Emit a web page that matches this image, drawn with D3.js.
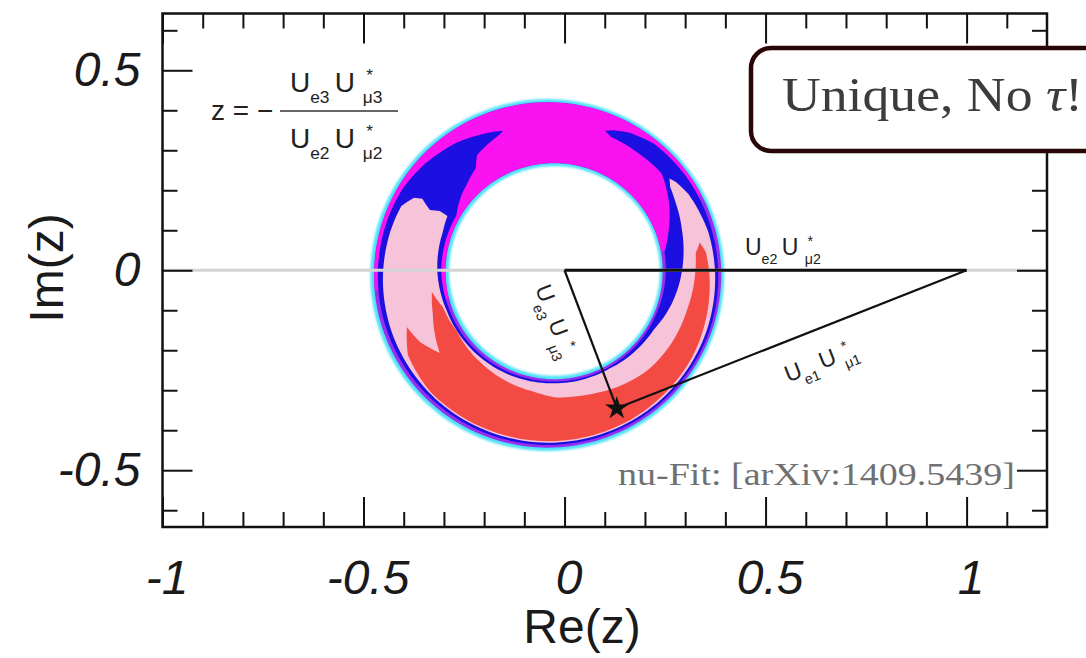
<!DOCTYPE html>
<html>
<head>
<meta charset="utf-8">
<script src="https://cdn.jsdelivr.net/npm/d3@7"></script>
<style>
  body { margin: 0; background: #fff; }
  svg { display: block; }
</style>
</head>
<body>
<svg></svg>
<script>
let width = 1086, height = 658;

// axis ticks
const xMajor = [-1, -0.5, 0, 0.5, 1];
const xMinor = [-0.9, -0.8, -0.7, -0.6, -0.4, -0.3, -0.2, -0.1, 0.1, 0.2, 0.3, 0.4, 0.6, 0.7, 0.8, 0.9, 1.1];
const yMajor = [-0.5, 0, 0.5];
const yMinor = [-0.6, -0.4, -0.3, -0.2, -0.1, 0.1, 0.2, 0.3, 0.4, 0.6];

// ring: inner edge (hole) and outer edge of the widest contour, in Re/Im units
const holeCenter = [-0.025, -0.002], holeRadius = 0.262;
const rimCenter = [-0.043, -0.012], rimRadius = 0.44;

// full bands, [t inner, t outer] across the ring (0 = hole edge, 1 = rim)
const cyanBand = [0, 1];
const purpleBand = [0.045, 0.955];

// regions as outlines of [angle in degrees, t]
const magentaRegion = [[10, 0.05], [28, 0.95], [185, 0.95], [195, 0.05]];
const blueRegion = [
  [108, 0.64], [115, 0.7], [125, 0.78], [138, 0.85], [149, 0.89], [160, 0.9], [200, 0.91],
  [270, 0.92], [340, 0.92], [375, 0.9], [395, 0.9], [411, 0.89], [420, 0.82], [426, 0.74], [429, 0.68],
  [426, 0.63], [414, 0.62], [402, 0.63], [390, 0.43], [378, 0.22], [370, 0.1], [340, 0.08],
  [270, 0.075], [200, 0.085], [180, 0.1], [150, 0.1], [140, 0.2], [134, 0.25], [126, 0.34],
  [122, 0.48], [114, 0.56], [110, 0.6]
];
const pinkRegion = [
  [150.5, 0.7], [155, 0.8], [165, 0.82], [180, 0.84], [200, 0.86], [230, 0.88], [270, 0.89],
  [310, 0.89], [340, 0.88], [360, 0.86], [375, 0.84], [390, 0.78], [396, 0.72], [398.6, 0.67],
  [396, 0.6], [390, 0.54], [378, 0.45], [360, 0.34], [345, 0.25], [330, 0.15], [300, 0.1],
  [270, 0.1], [200, 0.12], [180, 0.15], [160, 0.17], [152, 0.2], [151.2, 0.32], [152.5, 0.44], [149.6, 0.6]
];
const redRegion = [
  [200.6, 0.66], [210, 0.8], [225, 0.86], [270, 0.87], [300, 0.87], [330, 0.85], [350, 0.8],
  [360, 0.77], [368, 0.74], [371.8, 0.67], [368, 0.58], [360, 0.55], [345, 0.5], [330, 0.48],
  [315, 0.45], [300, 0.38], [290, 0.33], [280, 0.3], [272, 0.29], [261, 0.23], [236, 0.17],
  [212, 0.12], [198, 0.15], [189.5, 0.24], [199.6, 0.3], [215.8, 0.45], [207.8, 0.59]
];

// unitarity triangle: 0, 1 and the best fit point
const triangle = [[0, 0], [1, 0]];
const bestFit = [0.13, -0.345];

let svg = d3.select("svg")
    .attr("width", width).attr("height", height)
    .attr("viewBox", "0 0 " + width + " " + height);

svg.append("defs").append("filter").attr("id", "soft")
    .attr("x", "-10%").attr("y", "-10%").attr("width", "120%").attr("height", "120%")
  .append("feGaussianBlur").attr("stdDeviation", 1.3);

let x = d3.scaleLinear().domain([-1, 1.2]).range([162.5, 1047]);
let y = d3.scaleLinear().domain([-0.642, 0.642]).range([527, 13.5]);

// point across the ring at angle a, fraction t between hole edge and rim
function ringPoint([a, t]) {
  let rad = a * Math.PI / 180;
  let xi = holeCenter[0] + holeRadius * Math.cos(rad), yi = holeCenter[1] + holeRadius * Math.sin(rad);
  let xo = rimCenter[0] + rimRadius * Math.cos(rad), yo = rimCenter[1] + rimRadius * Math.sin(rad);
  return [xi + (xo - xi) * t, yi + (yo - yi) * t];
}

function outline(pts) {
  let out = [];
  pts.forEach((p, i) => {
    let q = pts[(i + 1) % pts.length];
    let n = Math.max(1, Math.ceil(Math.abs(q[0] - p[0]) / 2));
    for (let k = 0; k < n; k++) {
      out.push(ringPoint([p[0] + (q[0] - p[0]) * k / n, p[1] + (q[1] - p[1]) * k / n]));
    }
  });
  return out;
}

let ringLine = d3.line().x(d => x(d[0])).y(d => y(d[1])).curve(d3.curveLinearClosed);

function bandPath([t0, t1]) {
  let angles = d3.range(0, 360, 2);
  return ringLine(angles.map(a => ringPoint([a, t1]))) + ringLine(angles.map(a => ringPoint([a, t0])));
}

let ring = svg.append("g").attr("id", "ring");
ring.append("path").attr("d", bandPath(cyanBand)).attr("fill", "#4fe2f4")
    .attr("fill-rule", "evenodd").attr("filter", "url(#soft)");
ring.append("path").attr("d", bandPath(purpleBand)).attr("fill", "#982ef0").attr("fill-rule", "evenodd");

[[magentaRegion, "#fb12f0"], [blueRegion, "#1c0fe2"], [pinkRegion, "#f6c3d8"], [redRegion, "#f34b44"]]
  .forEach(([reg, col]) => {
    ring.append("path").attr("d", ringLine(outline(reg))).attr("fill", col);
  });

// zero line
svg.append("line")
    .attr("x1", x(-1)).attr("x2", x(1.2)).attr("y1", y(0)).attr("y2", y(0))
    .attr("stroke", "#d4d4d4").attr("stroke-width", 3);

// triangle sides
svg.append("line")
    .attr("x1", x(triangle[0][0])).attr("y1", y(triangle[0][1]))
    .attr("x2", x(triangle[1][0])).attr("y2", y(triangle[1][1]))
    .attr("stroke", "#111").attr("stroke-width", 3);
triangle.forEach(p => {
  svg.append("line")
      .attr("x1", x(p[0])).attr("y1", y(p[1]))
      .attr("x2", x(bestFit[0])).attr("y2", y(bestFit[1]))
      .attr("stroke", "#111").attr("stroke-width", 2.2);
});
svg.append("path")
    .attr("d", d3.symbol().type(d3.symbolStar).size(170)())
    .attr("transform", "translate(" + x(bestFit[0]) + "," + y(bestFit[1]) + ")")
    .attr("fill", "#111");

// U_a U*_b labels, drawn from the baseline start
function uPair(g, a, b, s) {
  let t = g.append("g").attr("font-family", "'Liberation Sans', Arial, sans-serif").attr("fill", "#222");
  t.append("text").attr("x", 0).attr("y", 0).attr("font-size", s).text("U");
  t.append("text").attr("x", 0.72 * s).attr("y", 0.38 * s).attr("font-size", 0.62 * s).text(a);
  t.append("text").attr("x", 1.6 * s).attr("y", 0).attr("font-size", s).text("U");
  t.append("text").attr("x", 2.6 * s).attr("y", 0.38 * s).attr("font-size", 0.62 * s).text(b);
  t.append("text").attr("x", 2.72 * s).attr("y", -0.38 * s).attr("font-size", 0.62 * s).text("*");
  return t;
}

function sideLabel(p, q, f, off, a, b) {
  let px = x(p[0]) + (x(q[0]) - x(p[0])) * f, py = y(p[1]) + (y(q[1]) - y(p[1])) * f;
  let ang = Math.atan2(y(q[1]) - y(p[1]), x(q[0]) - x(p[0]));
  let cx = px - Math.sin(ang) * off, cy = py + Math.cos(ang) * off;
  let s = 23;
  let g = svg.append("g").attr("transform",
      "translate(" + cx + "," + cy + ") rotate(" + (ang * 180 / Math.PI) + ")");
  uPair(g, a, b, s).attr("transform", "translate(" + (-1.65 * s) + "," + (0.35 * s) + ")");
}

// U_e2 U*_mu2 above the real side
uPair(svg.append("g").attr("transform", "translate(745,255)"), "e2", "μ2", 23);
// along the other sides
sideLabel(bestFit, triangle[1], 0.55, 31, "e1", "μ1");
sideLabel(triangle[0], bestFit, 0.3, 26, "e3", "μ3");

// formula z = - Ue3 U*mu3 / Ue2 U*mu2
let formula = svg.append("g");
formula.append("text").attr("x", 211).attr("y", 120)
    .attr("font-family", "'Liberation Sans', Arial, sans-serif").attr("font-size", 28)
    .attr("fill", "#222").text("z = −");
formula.append("line").attr("x1", 280).attr("x2", 398).attr("y1", 111).attr("y2", 111)
    .attr("stroke", "#333").attr("stroke-width", 1.6);
uPair(formula.append("g").attr("transform", "translate(290,92)"), "e3", "μ3", 28);
uPair(formula.append("g").attr("transform", "translate(290,148)"), "e2", "μ2", 28);

// axes: ticks on all sides
function tickSet(axis, scale, values, size, tr) {
  svg.append("g").attr("transform", tr)
      .call(axis(scale).tickValues(values).tickSize(-size).tickFormat(""))
      .call(g => g.select(".domain").remove())
      .call(g => g.selectAll("line").attr("stroke", "#111").attr("stroke-width", 2));
}
tickSet(d3.axisBottom, x, xMajor, 30, "translate(0," + y.range()[0] + ")");
tickSet(d3.axisBottom, x, xMinor, 15, "translate(0," + y.range()[0] + ")");
tickSet(d3.axisTop, x, xMajor, 30, "translate(0," + y.range()[1] + ")");
tickSet(d3.axisTop, x, xMinor, 15, "translate(0," + y.range()[1] + ")");
tickSet(d3.axisLeft, y, yMajor, 30, "translate(" + x.range()[0] + ",0)");
tickSet(d3.axisLeft, y, yMinor, 15, "translate(" + x.range()[0] + ",0)");
tickSet(d3.axisRight, y, yMajor, 30, "translate(" + x.range()[1] + ",0)");
tickSet(d3.axisRight, y, yMinor, 15, "translate(" + x.range()[1] + ",0)");

function styleLabels(g) {
  g.select(".domain").remove();
  g.attr("font-family", "'Liberation Sans', Arial, sans-serif").attr("font-size", 48);
  g.selectAll("text").attr("font-style", "italic").attr("fill", "#1a1a1a");
}
svg.append("g").attr("transform", "translate(0," + y.range()[0] + ")")
    .call(d3.axisBottom(x).tickValues(xMajor).tickSize(0).tickPadding(33).tickFormat(d => String(d)))
    .call(styleLabels)
    .call(g => g.selectAll("text").attr("dx", 4));
svg.append("g").attr("transform", "translate(" + x.range()[0] + ",0)")
    .call(d3.axisLeft(y).tickValues(yMajor).tickSize(0).tickPadding(22).tickFormat(d => String(d)))
    .call(styleLabels);

// axis titles
svg.append("text").attr("transform", "translate(63,268) rotate(-90)")
    .attr("text-anchor", "middle").attr("font-family", "'Liberation Sans', Arial, sans-serif")
    .attr("font-size", 48).attr("fill", "#1a1a1a").text("Im(z)");
svg.append("text").attr("x", 582).attr("y", 643)
    .attr("text-anchor", "middle").attr("font-family", "'Liberation Sans', Arial, sans-serif")
    .attr("font-size", 48).attr("fill", "#1a1a1a").text("Re(z)");

// frame
svg.append("rect")
    .attr("x", x.range()[0]).attr("y", y.range()[1])
    .attr("width", x.range()[1] - x.range()[0]).attr("height", y.range()[0] - y.range()[1])
    .attr("fill", "none").attr("stroke", "#111").attr("stroke-width", 2.5);

// reference note
svg.append("text").attr("x", 618).attr("y", 485)
    .attr("font-family", "'Liberation Serif', 'Times New Roman', serif").attr("font-size", 32)
    .attr("fill", "#707070").attr("textLength", 397).attr("lengthAdjust", "spacingAndGlyphs")
    .text("nu-Fit: [arXiv:1409.5439]");

// callout box
svg.append("rect").attr("x", 751).attr("y", 48).attr("width", 400).attr("height", 103).attr("rx", 20)
    .attr("fill", "#fff").attr("stroke", "#2a0606").attr("stroke-width", 4.5);
let uq = svg.append("text").attr("x", 782).attr("y", 111)
    .attr("font-family", "'Liberation Serif', 'Times New Roman', serif").attr("font-size", 48)
    .attr("fill", "#3c3c3c").attr("textLength", 301).attr("lengthAdjust", "spacingAndGlyphs");
uq.append("tspan").text("Unique, No ");
uq.append("tspan").attr("font-style", "italic").text("τ");
uq.append("tspan").text("!");
</script>
</body>
</html>
